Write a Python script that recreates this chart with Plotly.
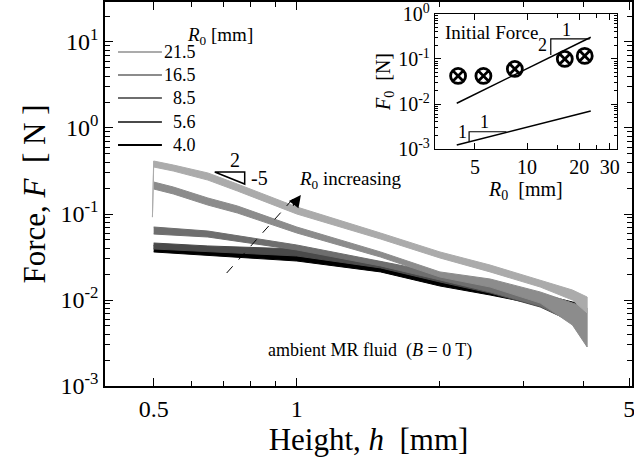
import numpy as np
import plotly.graph_objects as go

FONT = "Liberation Serif"

# ---------------- main plot data (upper / lower edges of each noisy band)
R_labels = ["21.5", "16.5", "8.5", "5.6", "4.0"]
colors = ["#ababab", "#8c8c8c", "#6e6e6e", "#4a4a4a", "#000000"]

h_215 = [0.497, 0.5, 0.55, 0.65, 0.75, 1.0, 1.5, 2.0, 2.55, 3.25, 3.8, 4.08]
F_215_hi = [0.092, 0.413, 0.371, 0.300, 0.223, 0.1206, 0.0601, 0.0362, 0.0255, 0.0171, 0.01306, 0.01083]
F_215_lo = [0.092, 0.352, 0.316, 0.248, 0.185, 0.100, 0.0512, 0.0308, 0.0212, 0.01416, 0.0100, 0.00706]

h_165 = [0.5, 0.55, 0.65, 0.75, 1.0, 1.5, 2.0, 2.55, 3.25, 3.8, 4.08]
F_165_hi = [0.2355, 0.206, 0.1535, 0.124, 0.0706, 0.0362, 0.0212, 0.01755, 0.0124, 0.00923, 0.00807]
F_165_lo = [0.1953, 0.171, 0.127, 0.1027, 0.0601, 0.0316, 0.0185, 0.01416, 0.00923, 0.00512, 0.00284]

h_85 = [0.5, 0.65, 1.0, 1.5, 2.0, 2.55, 3.25, 3.8, 4.0]
F_85_hi = [0.0706, 0.0634, 0.0436, 0.0284, 0.0206, 0.01577, 0.01113, 0.00807, 0.00725]
F_85_lo = [0.0585, 0.0540, 0.0382, 0.0249, 0.0171, 0.0124, 0.00851, 0.00555, 0.00472]

h_56 = [0.5, 0.65, 1.0, 1.5, 2.0, 2.55, 3.25, 3.8, 4.0]
F_56_hi = [0.0460, 0.0425, 0.0392, 0.0277, 0.01953, 0.01577, 0.01143, 0.00875, 0.00786]
F_56_lo = [0.0392, 0.0362, 0.0325, 0.0236, 0.0162, 0.01206, 0.00829, 0.00555, 0.00472]

h_40 = [0.5, 0.65, 1.0, 1.5, 2.0, 2.55, 3.25, 3.8, 4.05]
F_40_hi = [0.0436, 0.0392, 0.0334, 0.0249, 0.01755, 0.01495, 0.01174, 0.00948, 0.00898]
F_40_lo = [0.0362, 0.0334, 0.0284, 0.0212, 0.01455, 0.01143, 0.00875, 0.00669, 0.00618]

# ---------------- inset data
R0 = [4.0, 5.6, 8.5, 16.5, 21.5]
F0 = [0.042, 0.042, 0.060, 0.100, 0.117]
fit2_R = [3.93, 23.3]
fit2_F = [0.0104, 0.303]
fit1_R = [3.93, 23.3]
fit1_F = [0.00123, 0.00699]

x_ticks = [0.5, 1, 5]
y_ticks = [1e-3, 1e-2, 1e-1, 1e0, 1e1]
y_ticktext = ["10<sup>-3</sup>", "10<sup>-2</sup>", "10<sup>-1</sup>", "10<sup>0</sup>", "10<sup>1</sup>"]
ins_x_ticks = [5, 10, 20, 30]
ins_y_ticks = [1e-3, 1e-2, 1e-1, 1e0]
ins_y_ticktext = ["10<sup>-3</sup>", "10<sup>-2</sup>", "10<sup>-1</sup>", "10<sup>0</sup>"]

fig = go.Figure()

bands = [
    (h_40, F_40_hi, F_40_lo, 4),
    (h_56, F_56_hi, F_56_lo, 3),
    (h_85, F_85_hi, F_85_lo, 2),
    (h_165, F_165_hi, F_165_lo, 1),
    (h_215, F_215_hi, F_215_lo, 0),
]
for h, hi, lo, k in bands:
    fig.add_trace(go.Scatter(
        x=list(h) + list(h)[::-1], y=list(hi) + list(lo)[::-1],
        mode="lines", fill="toself", fillcolor=colors[k],
        line=dict(color=colors[k], width=1), showlegend=False, hoverinfo="skip",
        name=R_labels[k], xaxis="x", yaxis="y"))

# slope triangle (main)
fig.add_trace(go.Scatter(x=[0.672, 0.777, 0.777, 0.672], y=[0.308, 0.308, 0.223, 0.308],
                         mode="lines", line=dict(color="black", width=1.5),
                         showlegend=False, hoverinfo="skip"))
# dashed arrow shaft
fig.add_trace(go.Scatter(x=[0.712, 0.99], y=[0.0206, 0.158], mode="lines",
                         line=dict(color="black", width=1, dash="dash"),
                         showlegend=False, hoverinfo="skip"))

# inset traces
fig.add_trace(go.Scatter(x=fit2_R, y=fit2_F, mode="lines", line=dict(color="black", width=1.5),
                         showlegend=False, xaxis="x2", yaxis="y2"))
fig.add_trace(go.Scatter(x=fit1_R, y=fit1_F, mode="lines", line=dict(color="black", width=1.5),
                         showlegend=False, xaxis="x2", yaxis="y2"))
fig.add_trace(go.Scatter(x=R0, y=F0, mode="markers",
                         marker=dict(symbol="circle-x-open", size=15, color="black",
                                     line=dict(width=2.8, color="black")),
                         showlegend=False, xaxis="x2", yaxis="y2"))
# inset slope triangles
fig.add_trace(go.Scatter(x=[13.7, 13.7, 23.0], y=[0.1227, 0.278, 0.278], mode="lines",
                         line=dict(color="black", width=1.2), showlegend=False,
                         xaxis="x2", yaxis="y2"))
fig.add_trace(go.Scatter(x=[4.63, 4.63, 7.60], y=[0.00145, 0.00242, 0.00242], mode="lines",
                         line=dict(color="black", width=1.2), showlegend=False,
                         xaxis="x2", yaxis="y2"))

L = np.log10
ann = []
def txt(x, y, s, size, xref="x", yref="y", xanchor="center", yanchor="middle"):
    ann.append(dict(x=L(x), y=L(y), xref=xref, yref=yref, text=s, showarrow=False,
                    font=dict(family=FONT, size=size, color="black"),
                    xanchor=xanchor, yanchor=yanchor))

txt(0.74, 0.425, "2", 20)
txt(0.835, 0.262, "-5", 20)
txt(1.0, 0.25, "<i>R</i><sub>0</sub> increasing", 19, xanchor="left")
txt(1.425, 0.0026, "ambient MR fluid\u00a0 (<i>B</i> = 0 T)", 18)
txt(6.26, 0.378, "Initial Force", 19, "x2", "y2")
txt(12.3, 0.205, "2", 18, "x2", "y2")
txt(16.9, 0.44, "1", 18, "x2", "y2")
txt(4.24, 0.00242, "1", 18, "x2", "y2")
txt(5.65, 0.00404, "1", 18, "x2", "y2")
# arrow head
ann.append(dict(x=L(1.02), y=L(0.166), xref="x", yref="y", text="", showarrow=True,
                ax=-9, ay=12, arrowhead=2, arrowsize=1.6, arrowwidth=1.5, arrowcolor="black"))

# manual legend (title, sample lines, right-aligned labels)
ann.append(dict(x=0.152, y=0.948, xref="paper", yref="paper", showarrow=False,
                text="<i>R</i><sub>0</sub> [mm]", font=dict(family=FONT, size=19, color="black")))
leg_y = [0.8698, 0.8099, 0.75, 0.6875, 0.6276]
shapes = []
for k in range(5):
    shapes.append(dict(type="line", xref="paper", yref="paper", x0=0.0247, x1=0.108,
                       y0=leg_y[k], y1=leg_y[k], line=dict(color=colors[k], width=2)))
    ann.append(dict(x=0.1765, y=leg_y[k], xref="paper", yref="paper", showarrow=False,
                    text=R_labels[k], xanchor="right", yanchor="middle",
                    font=dict(family=FONT, size=18, color="black")))

minor_y = [k * 10.0 ** n for n in range(-3, 2) for k in range(2, 10)]
minor_y2 = [k * 10.0 ** n for n in range(-3, 0) for k in range(2, 10)]

axis_common = dict(showgrid=False, zeroline=False, showline=True, linecolor="black",
                   ticks="inside", mirror="ticks", tickcolor="black", automargin=False,
                   ticklabeloverflow="allow")

fig.update_layout(
    width=634, height=459,
    margin=dict(l=105, r=2, t=2, b=73),
    paper_bgcolor="white", plot_bgcolor="white",
    font=dict(family=FONT, color="black"),
    showlegend=False,
    annotations=ann, shapes=shapes,
    xaxis=dict(type="log", range=[L(0.395), L(5.07)], tickvals=x_ticks,
               ticktext=["0.5", "1", "5"], ticklen=8, tickwidth=1.2, linewidth=1.5,
               tickfont=dict(size=24),
               minor=dict(tickvals=[0.6, 0.7, 0.8, 0.9, 2, 3, 4], ticks="inside",
                          ticklen=5, tickcolor="black", showgrid=False),
               title=dict(text="Height, <i>h</i>\u00a0 [mm]", font=dict(size=31), standoff=8),
               **axis_common),
    yaxis=dict(type="log", range=[-3, 1.465], tickvals=y_ticks, ticktext=y_ticktext,
               ticklen=8, tickwidth=1.2, linewidth=1.5, tickfont=dict(size=24),
               minor=dict(tickvals=minor_y, ticks="inside", ticklen=5, tickcolor="black",
                          showgrid=False),
               title=dict(text="Force, <i>F</i>\u00a0 [ N ]", font=dict(size=31), standoff=6),
               **axis_common),
    xaxis2=dict(type="log", domain=[0.626, 0.9715], anchor="y2", range=[L(2.94), L(33)],
                tickvals=ins_x_ticks, ticktext=[str(v) for v in ins_x_ticks],
                ticklen=6, linewidth=1.2, tickfont=dict(size=20),
                minor=dict(tickvals=[15, 25], ticks="inside", ticklen=4, tickcolor="black",
                           showgrid=False),
                title=dict(text="<i>R</i><sub>0</sub>\u00a0 [mm]", font=dict(size=20), standoff=2),
                **axis_common),
    yaxis2=dict(type="log", domain=[0.617, 0.969], anchor="x2", range=[-3, 0],
                tickvals=ins_y_ticks, ticktext=ins_y_ticktext, ticklen=6, linewidth=1.2,
                tickfont=dict(size=20),
                minor=dict(tickvals=minor_y2, ticks="inside", ticklen=3, tickcolor="black",
                           showgrid=False),
                title=dict(text="<i>F</i><sub>0</sub>\u00a0 [N]", font=dict(size=20), standoff=2),
                **axis_common),
)

fig.write_html("out.html")
